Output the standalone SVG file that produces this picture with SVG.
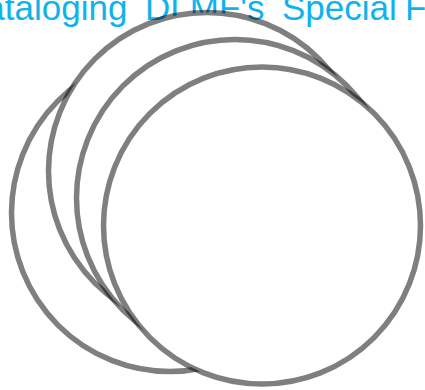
<svg xmlns="http://www.w3.org/2000/svg" width="425" height="390" viewBox="0 0 425 390">
  <style>
    .title { font-family: "Liberation Sans", Arial, sans-serif; font-size: 35px; fill: #10B2EE; }
    .ring { fill: #FFFFFF; stroke: #000000; stroke-opacity: 0.5; stroke-width: 5.5; }
  </style>
  <rect x="0" y="0" width="425" height="390" fill="#FFFFFF"/>
  <g id="title">
    <text class="title" y="20"><tspan x="-40">Cataloging</tspan><tspan x="145">DLMF's</tspan><tspan x="282">Special</tspan><tspan x="405">Functions</tspan></text>
  </g>
  <g id="circle-a"><circle class="ring" cx="170" cy="213" r="158.5"/></g>
  <g id="circle-b"><circle class="ring" cx="207" cy="171" r="158.5"/></g>
  <g id="circle-c"><circle class="ring" cx="235" cy="198" r="158.5"/></g>
  <g id="circle-d"><circle class="ring" cx="262" cy="225.5" r="158.5"/></g>
</svg>
